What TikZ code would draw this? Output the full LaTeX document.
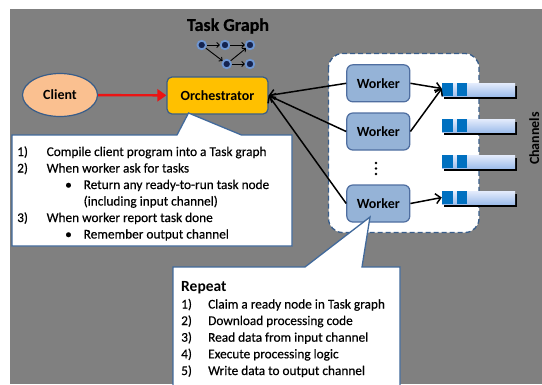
\documentclass[tikz,border=0pt]{standalone}
\usepackage{fontspec}
\setmainfont{Carlito}
\usetikzlibrary{arrows.meta,shapes.geometric,shadows}
\definecolor{bg}{RGB}{128,128,128}
\definecolor{edgeblue}{RGB}{56,93,138}
\definecolor{peach}{RGB}{250,192,144}
\definecolor{gold}{RGB}{255,192,0}
\definecolor{workerfill}{RGB}{149,179,215}
\definecolor{workeredge}{RGB}{79,110,160}
\definecolor{chdark}{RGB}{0,112,192}
\definecolor{chlight}{RGB}{228,236,252}
\definecolor{chmid}{RGB}{160,190,235}
\definecolor{navy}{RGB}{20,35,80}
\definecolor{glow}{RGB}{110,150,210}
\definecolor{arrowred}{RGB}{235,20,20}
\definecolor{calloutedge}{RGB}{65,105,155}
\begin{document}
\begin{tikzpicture}[x=1pt,y=-1pt,
  shapebox/.style={draw=edgeblue, line width=1.2pt, inner sep=0, font=\bfseries\fontsize{14}{16}\selectfont},
  clientshape/.style={shapebox, ellipse, minimum width=75pt, minimum height=43pt, fill=peach},
  orchshape/.style={shapebox, rounded corners=5pt, minimum width=101pt, minimum height=37pt, fill=gold},
  workershape/.style={shapebox, draw=workeredge, rounded corners=6pt, minimum width=63pt, minimum height=37pt, fill=workerfill},
  chanshape/.style={inner sep=0, minimum width=73pt, minimum height=13pt, top color=chlight, bottom color=chmid,
     drop shadow={shadow xshift=2pt, shadow yshift=-2.5pt, opacity=1, fill=black}},
  flow/.style={line width=1.5pt, -{Straight Barb[length=5pt,width=10pt]}},
  tdot/.style={circle, fill=navy, draw=glow, line width=1.8pt, minimum size=8.5pt, inner sep=0},
  tarr/.style={line width=0.9pt, -{Straight Barb[length=2.5pt,width=5pt]}},
  callout/.style={fill=white, draw=calloutedge, line width=1.3pt},
  ctext/.style={anchor=base west, inner sep=0, font=\fontsize{13.3}{15}\selectfont\addfontfeature{FakeBold=0.4}},
  ctitle/.style={anchor=base west, inner sep=0, font=\bfseries\fontsize{15.5}{17}\selectfont}
]
\useasboundingbox (0,0) rectangle (542,384);
\fill[white] (0,0) rectangle (542,384);
\fill[bg] (10,9) rectangle (542,384);

% title and small task graph
\node[font=\bfseries\fontsize{18}{20}\selectfont\addfontfeature{FakeBold=0.6}] (title) at (228,26) {Task Graph};
\node[tdot] (t1) at (201.7,45) {};
\node[tdot] (t2) at (225,45) {};
\node[tdot] (t3) at (250,45) {};
\node[tdot] (t4) at (226.7,64) {};
\node[tdot] (t5) at (250,64) {};
\draw[tarr] (t1) -- (t2);
\draw[tarr] (t2) -- (t3);
\draw[tarr] (t1) -- (t4);
\draw[tarr] (t4) -- (t3);
\draw[tarr] (t4) -- (t5);

% worker area
\draw[draw=edgeblue, fill=white, line width=1.3pt, dash pattern=on 5pt off 3pt, rounded corners=14pt]
  (328.5,53.5) rectangle (479,232.5);
\node[workershape] (w1) at (378.3,83.3) {Worker};
\node[workershape] (w2) at (378.3,131.5) {Worker};
\node[workershape] (w3) at (378.3,203.5) {Worker};
\fill (376,163) circle (1.3);
\fill (376,168.5) circle (1.3);
\fill (376,174) circle (1.3);

% channels
\foreach \i/\yy in {1/89.5,2/125.5,3/161.5,4/197.5}{
  \node[chanshape] (c\i) at (478.5,\yy) {};
  \fill[chdark] (c\i.north west) rectangle ++(11,13);
  \fill[chdark] ([xshift=15pt]c\i.north west) rectangle ++(10,13);
}
\node[rotate=90, anchor=south, inner sep=0, font=\bfseries\fontsize{14}{16}\selectfont] (chlabel) at (539.5,138.5) {Channels};

% client and orchestrator
\node[clientshape] (client) at (60,95) {Client};
\node[orchshape] (orch) at (217.5,95.5) {Orchestrator};
\draw[arrowred, line width=2.4pt, -{Triangle[length=9pt,width=12pt]}] (client) -- (orch);

% connectors
\draw[flow] (w1.west) -- (orch.east);
\draw[flow] (w2.west) -- (orch.east);
\draw[flow] (w3.west) -- (orch.east);
\draw[flow] (w1.east) -- ([yshift=1pt]c1.west);
\draw[flow] (w2.east) -- ([yshift=1pt]c1.west);
\draw[flow] (w3.east) -- (c4.west);

% callout 1
\draw[callout] (12,135) -- (177,135) -- (188.5,113) -- (241.5,135) -- (292,135) -- (292,246) -- (12,246) -- cycle;
\node[ctext] (a1n) at (17,156) {1)};
\node[ctext] (a1t) at (46.5,156) {Compile client program into a Task graph};
\node[ctext] (a2n) at (17,172.5) {2)};
\node[ctext] (a2t) at (46.5,172.5) {When worker ask for tasks};
\node[ctext] (a3n) at (65,189) {•};
\node[ctext] (a3t) at (83.5,189) {Return any ready-to-run task node};
\node[ctext] (a4t) at (83.5,205.5) {(including input channel)};
\node[ctext] (a5n) at (17,222) {3)};
\node[ctext] (a5t) at (46.5,222) {When worker report task done};
\node[ctext] (a6n) at (65,238.5) {•};
\node[ctext] (a6t) at (83.5,238.5) {Remember output channel};

% callout 2
\draw[callout] (173,267) -- (305,267) -- (370,217) -- (362,267) -- (400,267) -- (400,392) -- (173,392) -- cycle;
\node[ctitle] (b0) at (181,291.5) {Repeat};
\node[ctext] (b1n) at (181,308.5) {1)};
\node[ctext] (b1t) at (208,308.5) {Claim a ready node in Task graph};
\node[ctext] (b2n) at (181,325) {2)};
\node[ctext] (b2t) at (208,325) {Download processing code};
\node[ctext] (b3n) at (181,341.7) {3)};
\node[ctext] (b3t) at (208,341.7) {Read data from input channel};
\node[ctext] (b4n) at (181,358.3) {4)};
\node[ctext] (b4t) at (208,358.3) {Execute processing logic};
\node[ctext] (b5n) at (181,375) {5)};
\node[ctext] (b5t) at (208,375) {Write data to output channel};
\end{tikzpicture}
\end{document}
